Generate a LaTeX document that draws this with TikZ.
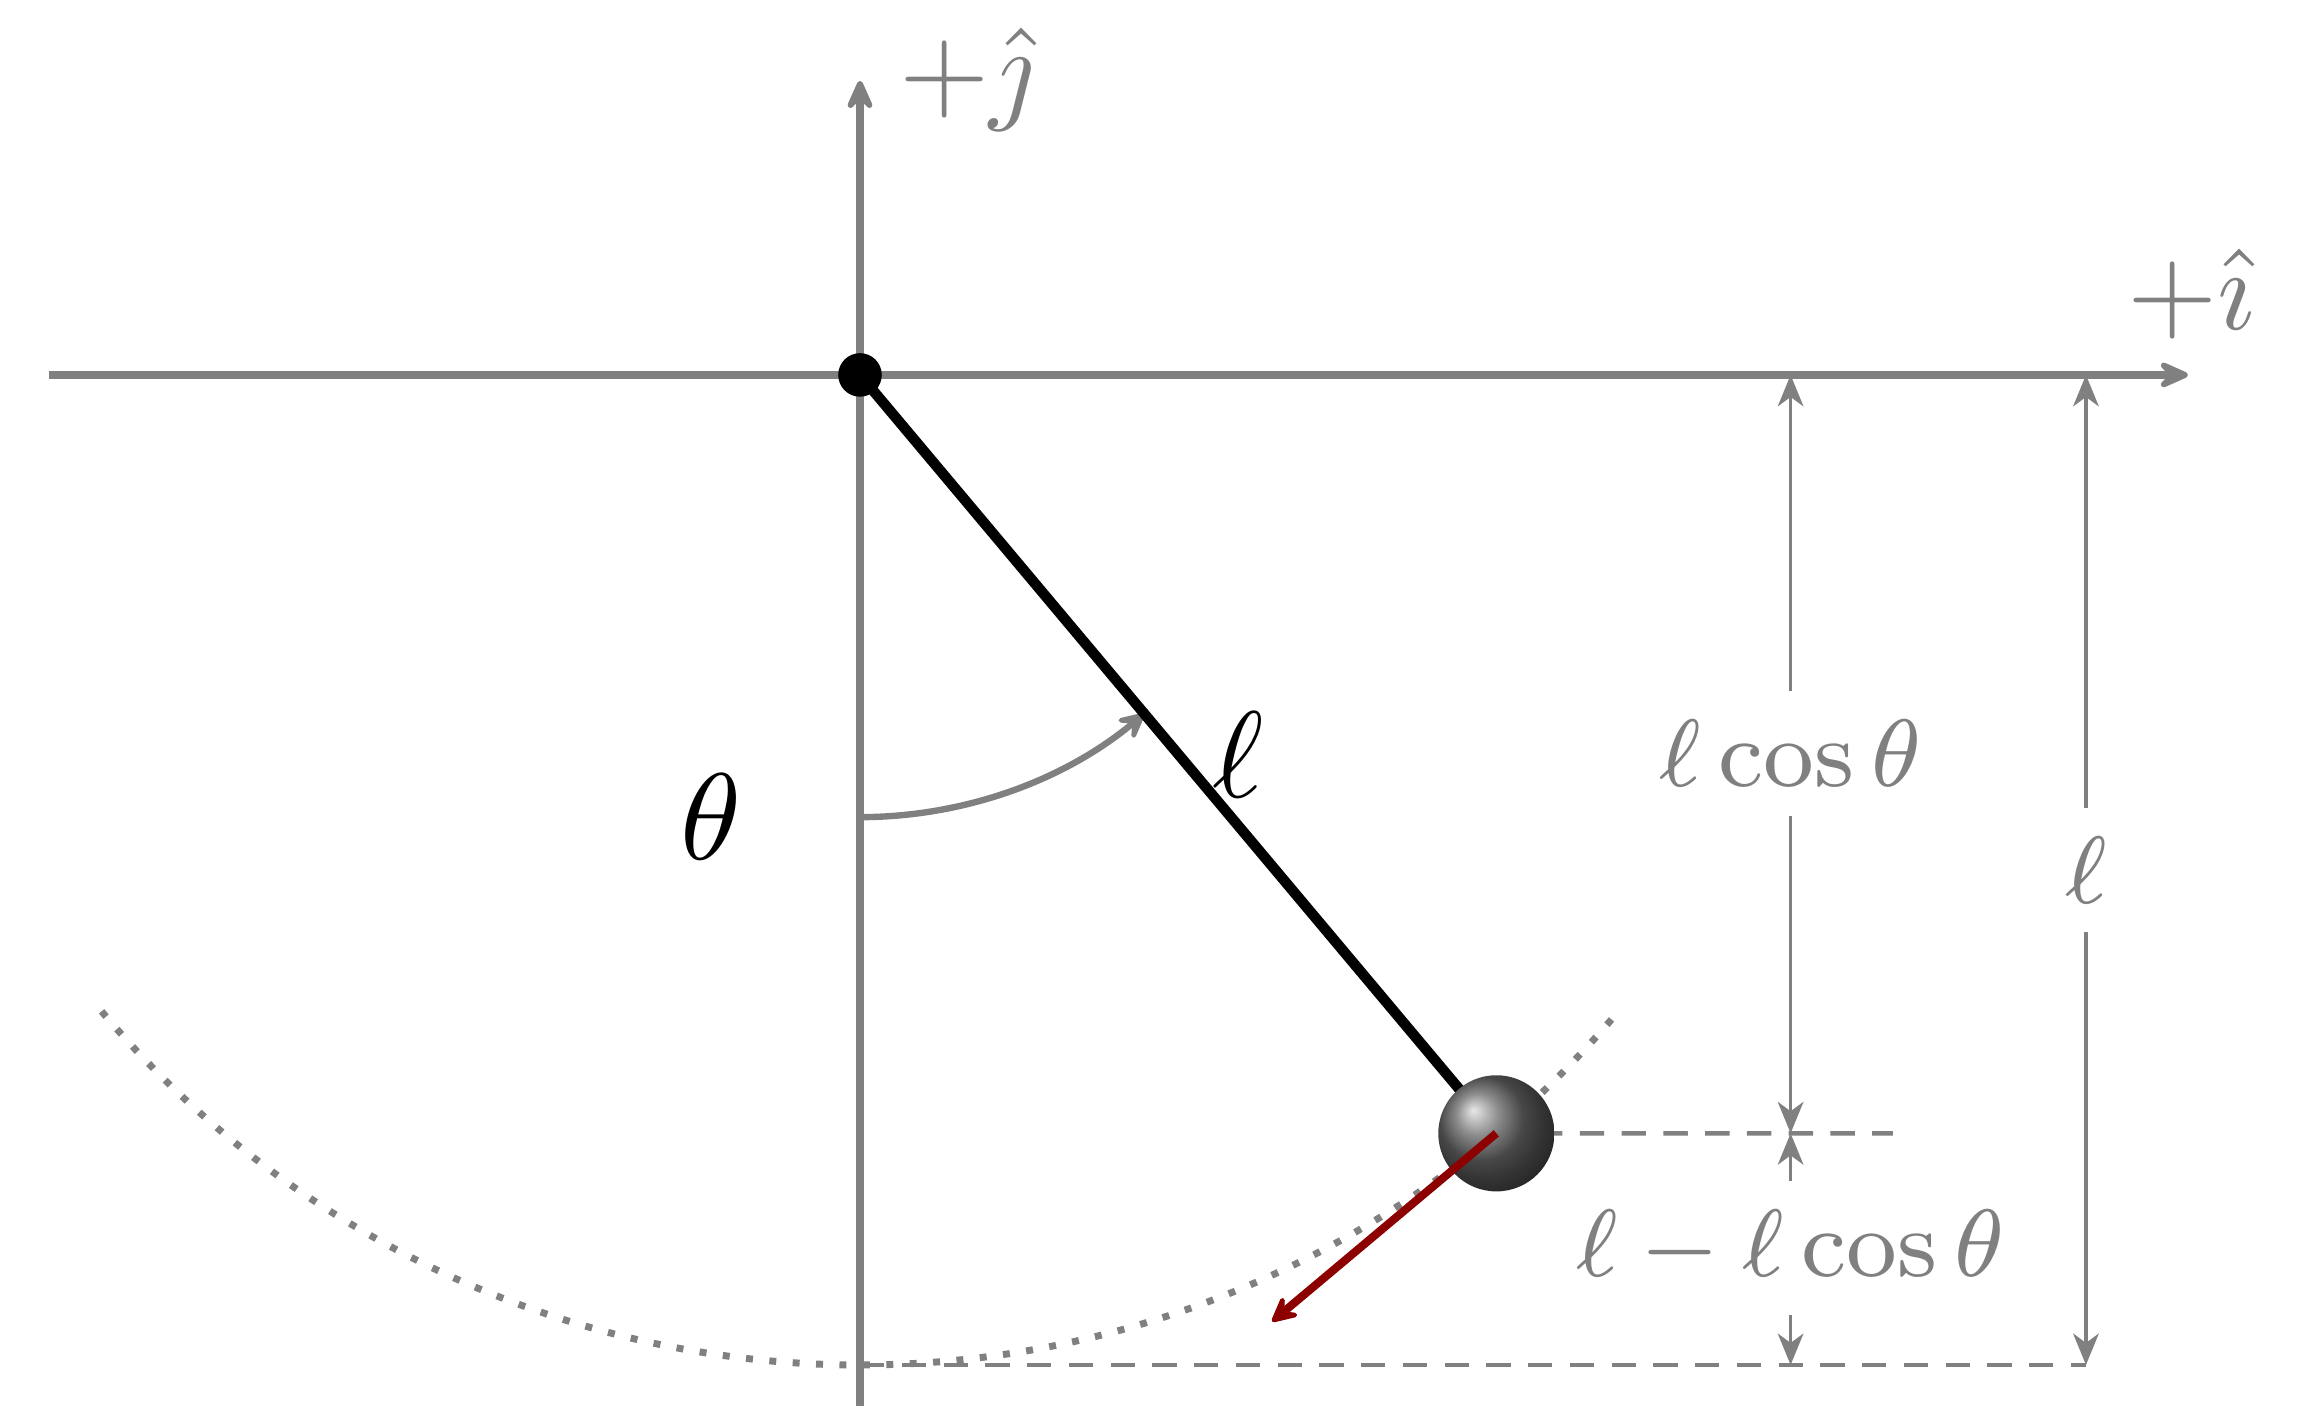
\RequirePackage{fix-cm}
\documentclass[tikz,border=0pt]{standalone}
\usetikzlibrary{arrows.meta}
\begin{document}
\begin{tikzpicture}[
  axisline/.style={draw=gray, line width=0.65pt, -{Stealth[round,length=3.5pt,width=3.1pt,inset=1.5pt]}},
  dimline/.style={draw=gray, line width=0.32pt, -{Stealth[length=2.7pt,width=2.2pt,inset=0.8pt]}},
  dashline/.style={draw=gray, line width=0.38pt, dash pattern=on 2.1pt off 1.5pt},
  axislabel/.style={text=gray, inner sep=0pt, anchor=base west, font=\fontsize{10}{12}\selectfont},
  dimlabel/.style={text=gray, inner xsep=1pt, inner ysep=2.3pt, font=\fontsize{8.25}{10}\selectfont},
  mainlabel/.style={inner sep=0pt, font=\fontsize{10.6}{12}\selectfont},
  anglearrow/.style={draw=gray, line width=0.55pt, -{Stealth[round,length=3.1pt,width=3.1pt,inset=1.5pt]}},
  velarrow/.style={draw=red!55!black, line width=0.7pt, -{Stealth[round,length=3pt,width=3pt,inset=1.4pt]}}
]
\useasboundingbox (-2.606,-3.142) rectangle (4.403,1.136);

% coordinates
\coordinate (O) at (0,0);
\coordinate (B) at (-50:3);
\coordinate (BOT) at (0,-3);
\coordinate (xl) at (-2.458,0);
\coordinate (xr) at (4.024,0);
\coordinate (yb) at (0,-3.124);
\coordinate (yt) at (0,0.891);
\coordinate (dashA) at (3.13,-2.298);
\coordinate (dashB) at (3.715,-3);
\coordinate (d1t) at (2.82,0);
\coordinate (d1b) at (2.82,-2.298);
\coordinate (d2b) at (2.82,-3);
\coordinate (d3t) at (3.715,0);
\coordinate (d3b) at (3.715,-3);
\coordinate (th0) at (0,-1.34);

% axes
\draw[axisline] (xl) -- (xr);
\draw[axisline] (yb) -- (yt);
\node[axislabel] (jlab) at (0.112,0.806) {$+\hat{\jmath}$};
\node[axislabel] (ilab) at (3.833,0.139) {$+\hat{\imath}$};

% dotted swing arc
\draw[gray, line width=0.6pt, dash pattern=on 0.6pt off 1.42pt] (220:3) arc (220:320:3);

% dashed reference lines
\draw[dashline] (B) -- (dashA);
\draw[dashline] (BOT) -- (dashB);

% angle
\draw[anglearrow] (th0) arc (-90:-50:1.34);
\node[mainlabel] (th) at (-0.45,-1.339) {$\theta$};

% string
\draw[line width=0.9pt] (O) -- (B);
\node[mainlabel] (ell) at (1.145,-1.152) {$\ell$};

% pivot
\node[circle, fill=black, inner sep=0pt, minimum size=0.132cm] (piv) at (O) {};

% bob
\node[circle, inner sep=0pt, minimum size=0.352cm, ball color=gray!80!black, shading=ball] (bob) at (B) {};

% velocity arrow
\path (B) ++(-140:0.887) coordinate (vtip);
\draw[velarrow] (bob.center) -- (vtip);

% dimensions
\node[dimlabel] (lc) at (2.82,-1.147) {$\ell\cos\theta$};
\draw[dimline] (lc.north) -- (d1t);
\draw[dimline] (lc.south) -- (d1b);

\node[dimlabel] (lmlc) at (2.82,-2.645) {$\ell-\ell\cos\theta$};
\draw[dimline] (lmlc.north) -- (d1b);
\draw[dimline] (lmlc.south) -- (d2b);

\node[dimlabel] (lo) at (3.715,-1.5) {$\ell$};
\draw[dimline] (lo.north) -- (d3t);
\draw[dimline] (lo.south) -- (d3b);
\end{tikzpicture}
\end{document}
